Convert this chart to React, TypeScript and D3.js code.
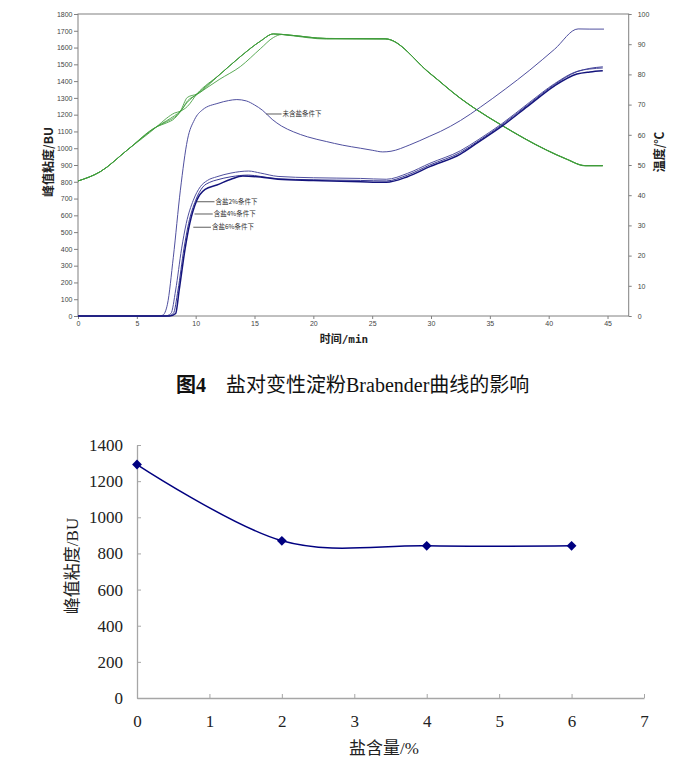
import { useEffect, useRef } from "react";
import * as d3 from "d3";

const W = 694;
const H = 775;

type Pt = [number, number];

// Brabender curves: [time min, viscosity BU]
const noSalt: Pt[] = [
  [0, 0], [5, 0], [6.8, 0], [7.2, 5], [7.6, 70], [8.1, 350], [8.7, 750], [9.3, 1050],
  [9.9, 1170], [10.6, 1230], [11.9, 1268], [12.8, 1284], [13.5, 1290], [14.3, 1282],
  [15, 1258], [15.7, 1225], [16.5, 1172], [17.3, 1132], [18.3, 1098], [19.5, 1068],
  [21.1, 1040], [22.5, 1018], [24, 1000], [25, 988], [25.9, 978], [26.6, 982],
  [28.2, 1020], [29.9, 1072], [30.8, 1100], [32.5, 1165], [34.2, 1245], [36.3, 1352],
  [38.4, 1466], [40.5, 1590], [42.5, 1711], [43.5, 1710], [44.7, 1710],
];
const salt2: Pt[] = [
  [0, 0], [7.4, 0], [7.9, 15], [8.3, 155], [8.8, 400], [9.2, 552], [9.8, 690],
  [10.4, 771], [11, 808], [11.8, 830], [13, 852], [14.5, 864], [15.5, 852], [17, 832],
  [20, 824], [24, 820], [26.2, 815], [28, 850], [29.9, 910], [32.5, 985], [34, 1050],
  [36, 1145], [38.4, 1275], [40.5, 1385], [42.4, 1458], [43.5, 1472], [44.6, 1478],
];
const salt4: Pt[] = [
  [0, 0], [7.6, 0], [8.1, 15], [8.5, 155], [9, 400], [9.4, 552], [10, 690],
  [10.6, 768], [11.2, 797], [11.8, 811], [13, 830], [14.5, 840], [15.5, 832], [17, 818],
  [20, 812], [24, 808], [26.2, 805], [28, 840], [29.9, 900], [32.5, 975], [34, 1042],
  [36, 1138], [38.4, 1268], [40.5, 1380], [42.4, 1456], [43.5, 1476], [44.6, 1485],
];
const salt6: Pt[] = [
  [0, 0], [7.8, 0], [8.3, 15], [8.6, 155], [9.1, 400], [9.5, 552], [10.1, 690],
  [10.8, 755], [11.8, 781], [13, 815], [14, 834], [15.5, 828], [17, 815], [20, 808],
  [24, 800], [26.2, 797], [28, 830], [29.9, 890], [32.5, 965], [34, 1035], [36, 1130],
  [38.4, 1260], [40.5, 1372], [42.4, 1442], [43.5, 1455], [44.6, 1462],
];

// temperature traces: [time min, °C]
const tempA: Pt[] = [
  [0, 44.7], [1.9, 47.8], [4.2, 55], [6.7, 62.7], [7.5, 65.4], [8.2, 67.2], [8.7, 67.8],
  [9.3, 69.4], [10.1, 73.5], [12, 79.8], [13.8, 85.9], [15.5, 91], [16.6, 93.4], [18, 93],
  [21.1, 91.9], [26.1, 91.8], [29.9, 80.4], [32.5, 72.1], [33.7, 68.8], [36, 63.2],
  [39.8, 55], [41.5, 52], [43.1, 49.8], [44.6, 49.8],
];
const tempB: Pt[] = [
  [0, 44.7], [1.9, 47.8], [4.2, 55], [6.7, 62.7], [7.5, 63.9], [8.2, 65.4], [8.7, 67.8],
  [9.3, 72.4], [10.1, 73.5], [12, 79.8], [13.8, 85.9], [15.5, 91], [16.6, 93.4], [18, 93],
  [21.1, 91.9], [26.1, 91.8], [29.9, 80.4], [32.5, 72.1], [33.7, 68.8], [36, 63.2],
  [39.8, 55], [41.5, 52], [43.1, 49.8], [44.6, 49.8],
];
const tempC: Pt[] = [
  [0, 44.7], [1.9, 47.8], [4.2, 55], [6.7, 62.7], [7.5, 64.6], [8.2, 66.3], [8.7, 67.8],
  [9.3, 70.8], [10.1, 73.5], [12, 79.8], [13.8, 85.9], [15.5, 91], [16.6, 93.4], [18, 93],
  [21.1, 91.9], [26.1, 91.8], [29.9, 80.4], [32.5, 72.1], [33.7, 68.8], [36, 63.2],
  [39.8, 55], [41.5, 52], [43.1, 49.8], [44.6, 49.8],
];
const tempD: Pt[] = [
  [0, 44.7], [1.9, 47.8], [4.2, 55], [6.7, 62.7], [7.5, 64.3], [8.2, 65.8], [8.7, 67.6],
  [9.3, 71.2], [10.1, 73.3], [12, 78.3], [13.8, 82.6], [15.5, 88.5], [16.6, 92.2],
  [17.3, 93.2], [18, 92.9], [21.1, 91.7], [26.1, 91.7], [29.9, 80.3], [32.5, 72],
  [33.7, 68.7], [36, 63.1], [39.8, 54.9], [41.5, 51.9], [43.1, 49.7], [44.6, 49.7],
];

const timeTicks = [0, 5, 10, 15, 20, 25, 30, 35, 40, 45];
const buTicks = [0, 100, 200, 300, 400, 500, 600, 700, 800, 900, 1000, 1100, 1200, 1300, 1400, 1500, 1600, 1700, 1800];
const tempTicks = [0, 10, 20, 30, 40, 50, 60, 70, 80, 90, 100];

// annotation labels: [text, line start t, line end t, BU]
const curveLabels: [string, number, number, number][] = [
  ["未含盐条件下", 16.0, 17.3, 1204],
  ["含盐2%条件下", 10.1, 11.6, 681],
  ["含盐4%条件下", 9.9, 11.45, 608],
  ["含盐6%条件下", 9.8, 11.3, 529],
];

// peak viscosity vs salt content
const saltLevels = [0, 2, 4, 6];
const peakBU = [1292, 870, 842, 842];
const saltTicks = [0, 1, 2, 3, 4, 5, 6, 7];
const peakTicks = [0, 200, 400, 600, 800, 1000, 1200, 1400];

const SANS = "'Liberation Sans', Arial, 'Noto Sans CJK SC', sans-serif";
const SERIF = "'Liberation Serif', 'DejaVu Serif', 'Noto Sans CJK SC', serif";
const CJK = "'Noto Sans CJK SC', 'Liberation Sans', sans-serif";

const App = () => {
  const svgRef = useRef<SVGSVGElement>(null);

  useEffect(() => {
    if (!svgRef.current) return;
    const svg = d3.select(svgRef.current);
    svg.selectAll("*").remove();
    const fmt = d3.format("d");

    // ---------- top chart: Brabender curves ----------
    const x1 = d3.scaleLinear().domain([0, 46.8]).range([78, 628.7]);
    const yL = d3.scaleLinear().domain([0, 1800]).range([316, 14]);
    const yR = d3.scaleLinear().domain([0, 100]).range([316, 14]);

    const top = svg.append("g");

    const styleSmallAxis = (g: any) => {
      g.select(".domain").remove();
      g.selectAll(".tick line").attr("stroke", "#808080");
      g.selectAll(".tick text")
        .attr("fill", "#444")
        .attr("font-size", 7)
        .attr("font-family", SANS);
    };

    top.append("g")
      .attr("transform", "translate(78,0)")
      .call(d3.axisLeft(yL).tickValues(buTicks).tickFormat(fmt as any).tickSize(4).tickPadding(1.5) as any)
      .call(styleSmallAxis);

    top.append("g")
      .attr("transform", "translate(628.7,0)")
      .call(d3.axisRight(yR).tickValues(tempTicks).tickFormat(fmt as any).tickSize(3).tickPadding(6) as any)
      .call(styleSmallAxis);

    top.append("g")
      .attr("transform", "translate(0,316)")
      .call(d3.axisBottom(x1).tickValues(timeTicks).tickFormat(fmt as any).tickSize(3).tickPadding(2.5) as any)
      .call(styleSmallAxis);

    top.append("rect")
      .attr("x", 78)
      .attr("y", 14)
      .attr("width", 628.7 - 78)
      .attr("height", 302)
      .attr("fill", "none")
      .attr("stroke", "#808080")
      .attr("stroke-width", 1);

    const tempLine = d3.line<Pt>()
      .x((d) => x1(d[0]))
      .y((d) => yR(d[1]))
      .curve(d3.curveMonotoneX);
    const buLine = d3.line<Pt>()
      .x((d) => x1(d[0]))
      .y((d) => yL(d[1]))
      .curve(d3.curveMonotoneX);

    [tempA, tempB, tempC, tempD].forEach((s) => {
      top.append("path")
        .attr("d", tempLine(s))
        .attr("fill", "none")
        .attr("stroke", "#3f9c3a")
        .attr("stroke-width", 0.85);
    });

    const blues: [Pt[], string, number][] = [
      [noSalt, "#50509f", 1],
      [salt2, "#50509f", 1],
      [salt4, "#3c3c96", 1],
      [salt6, "#14147c", 1.5],
    ];
    blues.forEach(([s, c, w]) => {
      top.append("path")
        .attr("d", buLine(s))
        .attr("fill", "none")
        .attr("stroke", c)
        .attr("stroke-width", w);
    });

    curveLabels.forEach(([txt, t0, t1, v]) => {
      top.append("line")
        .attr("x1", x1(t0))
        .attr("x2", x1(t1))
        .attr("y1", yL(v))
        .attr("y2", yL(v))
        .attr("stroke", "#333")
        .attr("stroke-width", 0.8);
      top.append("text")
        .attr("x", x1(t1) + 1)
        .attr("y", yL(v))
        .attr("dominant-baseline", "middle")
        .attr("font-size", 6.5)
        .attr("font-family", CJK)
        .attr("fill", "#333")
        .text(txt);
    });

    top.append("text")
      .attr("transform", "translate(53,162) rotate(-90)")
      .attr("text-anchor", "middle")
      .attr("font-size", 12)
      .attr("font-weight", "bold")
      .attr("font-family", CJK)
      .attr("fill", "#222")
      .text("峰值粘度/BU");

    top.append("text")
      .attr("transform", "translate(664,152) rotate(-90)")
      .attr("text-anchor", "middle")
      .attr("font-size", 12)
      .attr("font-weight", "bold")
      .attr("font-family", CJK)
      .attr("fill", "#222")
      .text("温度/℃");

    top.append("text")
      .attr("x", 344)
      .attr("y", 343)
      .attr("text-anchor", "middle")
      .attr("font-size", 11)
      .attr("font-weight", "bold")
      .attr("font-family", "'DejaVu Sans Mono', 'Noto Sans CJK SC', monospace")
      .attr("fill", "#222")
      .text("时间/min");

    // caption
    const cap = svg.append("text")
      .attr("x", 176)
      .attr("y", 392)
      .attr("font-size", 20)
      .attr("font-family", SERIF)
      .attr("fill", "#111");
    cap.append("tspan").attr("font-weight", "bold").text("图4");
    cap.append("tspan").attr("x", 226).text("盐对变性淀粉Brabender曲线的影响");

    // ---------- bottom chart: peak viscosity vs salt ----------
    const x2 = d3.scaleLinear().domain([0, 7]).range([137, 644]);
    const y2 = d3.scaleLinear().domain([0, 1400]).range([698, 445]);
    const bot = svg.append("g");

    const styleBigAxis = (g: any) => {
      g.select(".domain").attr("stroke", "#a6a6a6").attr("stroke-width", 1.3);
      g.selectAll(".tick line").attr("stroke", "#a6a6a6");
      g.selectAll(".tick text")
        .attr("fill", "#222")
        .attr("font-size", 17)
        .attr("font-family", SERIF);
    };

    bot.append("g")
      .attr("transform", "translate(137,0)")
      .call(d3.axisLeft(y2).tickValues(peakTicks).tickFormat(fmt as any).tickSizeInner(-4).tickSizeOuter(0).tickPadding(14) as any)
      .call(styleBigAxis);

    bot.append("g")
      .attr("transform", "translate(0,698)")
      .call(d3.axisBottom(x2).tickValues(saltTicks).tickFormat(fmt as any).tickSizeInner(-4).tickSizeOuter(0).tickPadding(17) as any)
      .call(styleBigAxis);

    const pts: Pt[] = saltLevels.map((s, i) => [s, peakBU[i]]);
    const peakLine = d3.line<Pt>()
      .x((d) => x2(d[0]))
      .y((d) => y2(d[1]))
      .curve(d3.curveCardinal.tension(0));

    bot.append("path")
      .attr("d", peakLine(pts))
      .attr("fill", "none")
      .attr("stroke", "#000080")
      .attr("stroke-width", 1.5);

    const diamond = d3.symbol().type(d3.symbolSquare).size(48);
    bot.selectAll(".pt")
      .data(pts)
      .enter()
      .append("path")
      .attr("class", "pt")
      .attr("d", diamond() as string)
      .attr("transform", (d) => `translate(${x2(d[0])},${y2(d[1])}) rotate(45)`)
      .attr("fill", "#000080");

    bot.append("text")
      .attr("transform", "translate(78,566) rotate(-90)")
      .attr("text-anchor", "middle")
      .attr("font-size", 17)
      .attr("font-family", SERIF)
      .attr("fill", "#222")
      .text("峰值粘度/BU");

    bot.append("text")
      .attr("x", 384)
      .attr("y", 754)
      .attr("text-anchor", "middle")
      .attr("font-size", 17)
      .attr("font-family", SERIF)
      .attr("fill", "#222")
      .text("盐含量/%");
  }, []);

  return (
    <svg
      ref={svgRef}
      width={W}
      height={H}
      style={{ position: "absolute", left: 0, top: 0, background: "#fff", display: "block" }}
    />
  );
};

export default App;
